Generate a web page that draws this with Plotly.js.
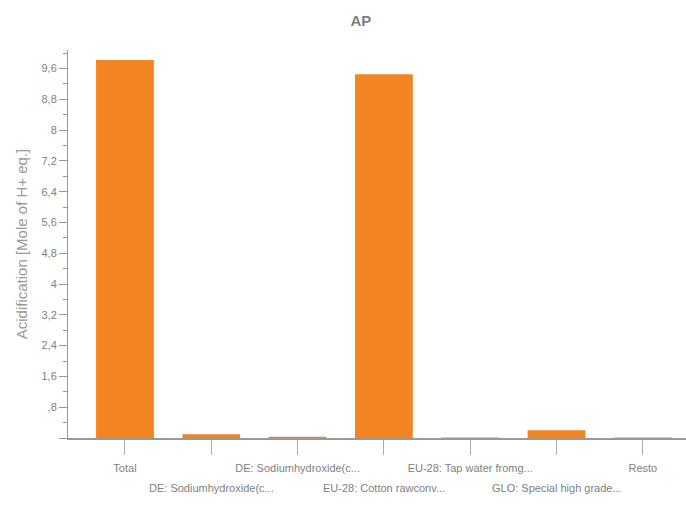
<!DOCTYPE html>
<html>
<head>
<meta charset="utf-8">
<script src="https://cdn.plot.ly/plotly-3.0.1.min.js"></script>
<style>html,body{margin:0;padding:0;background:#fff;}#chart{width:686px;height:512px;}</style>
</head>
<body>
<div id="chart"></div>
<script>
const categories = ["Total", "DE: Sodiumhydroxide(c...", "DE: Sodiumhydroxide(c...", "EU-28: Cotton rawconv...", "EU-28: Tap water fromg...", "GLO: Special high grade...", "Resto"];
const values = [9.82, 0.1, 0.03, 9.45, 0.01, 0.2, 0.01];
const yTickVals = [0, 0.8, 1.6, 2.4, 3.2, 4, 4.8, 5.6, 6.4, 7.2, 8, 8.8, 9.6];
const yTickText = ["", ",8", "1,6", "2,4", "3,2", "4", "4,8", "5,6", "6,4", "7,2", "8", "8,8", "9,6"];
const xIdx = categories.map((c, i) => i);
// even categories on the first label row (tick labels), odd on a second row (annotations)
const xTickText = categories.map((c, i) => (i % 2 === 0 ? c : ""));
const lowerRow = categories.map((c, i) => ({c, i})).filter(o => o.i % 2 === 1).map(o => ({
  x: o.i, xref: "x", y: 0, yref: "y", yanchor: "top", xanchor: "center",
  yshift: -42, showarrow: false, text: o.c,
  font: {size: 11, color: "#808080", family: "Liberation Sans, Arial, sans-serif"}
}));

const trace = {
  type: "bar",
  x: xIdx,
  y: values,
  marker: {color: "#F28522"},
  hoverinfo: "skip"
};

const layout = {
  width: 686, height: 512,
  margin: {l: 68, r: 0, t: 50, b: 74},
  paper_bgcolor: "#fff", plot_bgcolor: "#fff",
  font: {family: "Liberation Sans, Arial, sans-serif", color: "#808080", size: 11},
  title: {text: "<b>AP</b>", x: 0.526, xref: "container", y: 0.96, yref: "container", yanchor: "middle",
          font: {size: 15, color: "#808080", family: "Liberation Sans, Arial, sans-serif"}},
  bargap: 0.33,
  showlegend: false,
  annotations: lowerRow,
  xaxis: {
    range: [-0.66, 6.5],
    tickmode: "array", tickvals: xIdx, ticktext: xTickText,
    tickangle: 0, automargin: false, ticklabelstandoff: 4,
    ticks: "outside", ticklen: 15, tickcolor: "#aaa", tickwidth: 1,
    showline: true, linecolor: "#999", linewidth: 2,
    showgrid: false, zeroline: false,
    tickfont: {size: 11, color: "#808080"},
    fixedrange: true
  },
  yaxis: {
    range: [0, 10.08],
    tickmode: "array", tickvals: yTickVals, ticktext: yTickText,
    ticks: "outside", ticklen: 8, tickcolor: "#999", tickwidth: 1,
    minor: {dtick: 0.4, tick0: 0, ticks: "outside", ticklen: 4, tickcolor: "#999", showgrid: false},
    showline: true, linecolor: "#999", linewidth: 1,
    showgrid: false, zeroline: false,
    tickfont: {size: 11, color: "#808080"},
    title: {text: "Acidification [Mole of H+ eq.]", font: {size: 15, color: "#999"}, standoff: 10},
    fixedrange: true
  }
};

Plotly.newPlot("chart", [trace], layout, {displayModeBar: false, staticPlot: true});
</script>
</body>
</html>
